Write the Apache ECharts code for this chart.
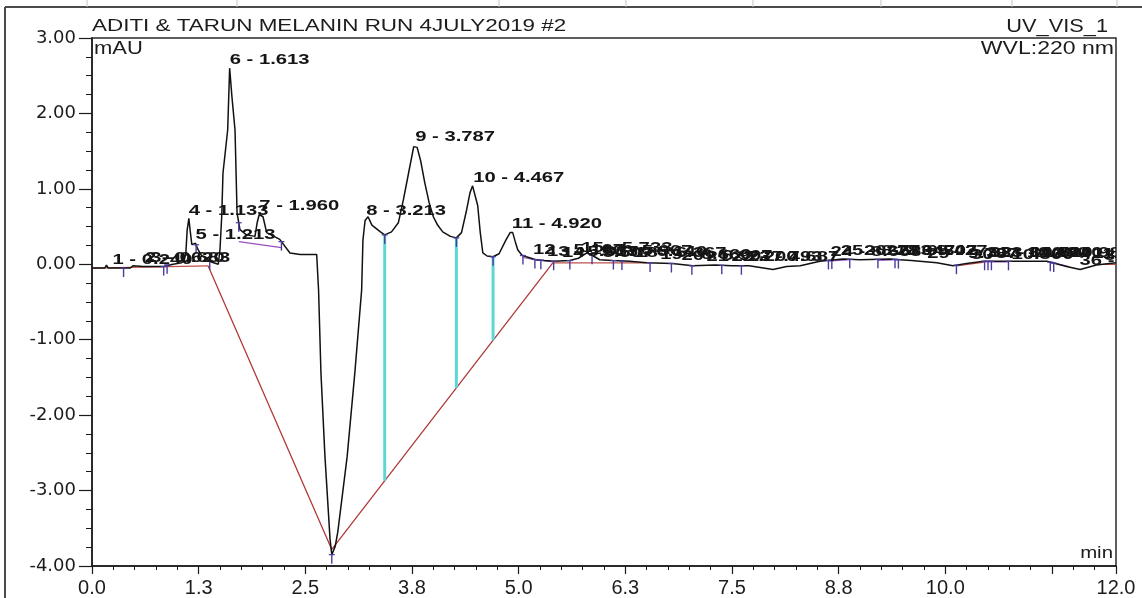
<!DOCTYPE html>
<html>
<head>
<meta charset="utf-8">
<title>ADITI &amp; TARUN MELANIN RUN 4JULY2019 #2</title>
<script src="https://cdn.jsdelivr.net/npm/echarts@6/dist/echarts.min.js"></script>
<style>
  html, body { margin: 0; padding: 0; background: #ffffff; }
  #chart { width: 1142px; height: 598px; }
</style>
</head>
<body>
<div id="chart"></div>
<script>
// UV_VIS_1 chromatogram, signal in mAU against retention time in min
const traceTime = [
  0.00, 0.15, 0.17, 0.19, 0.45, 0.48, 0.60, 0.84, 0.86, 0.95, 1.05, 1.08, 1.10, 1.115, 1.135, 1.15, 1.17, 1.19,
  1.213, 1.24, 1.28, 1.32, 1.40, 1.48, 1.50, 1.52, 1.535, 1.59, 1.613, 1.625, 1.64, 1.676, 1.70, 1.734, 1.81,
  1.91, 1.935, 1.96, 2.004, 2.047, 2.20, 2.32, 2.44, 2.633, 2.655, 2.683, 2.73, 2.79, 2.81, 2.85, 2.88, 2.99,
  3.08, 3.16, 3.175, 3.20, 3.235, 3.28, 3.38, 3.43, 3.51, 3.59, 3.65, 3.71, 3.77, 3.79, 3.81, 3.85, 3.90, 3.95,
  4.00, 4.05, 4.11, 4.20, 4.27, 4.33, 4.39, 4.43, 4.46, 4.48, 4.52, 4.55, 4.58, 4.63, 4.70, 4.77, 4.85, 4.90,
  4.93, 4.96, 4.99, 5.04, 5.09, 5.20, 5.30, 5.41, 5.60, 5.70, 5.80, 5.86, 5.95, 6.10, 6.30, 6.50, 6.80, 7.04,
  7.30, 7.50, 7.70, 7.98, 8.14, 8.30, 8.53, 8.80, 9.00, 9.35, 9.60, 9.90, 10.09, 10.25, 10.45, 10.80, 11.19,
  11.42, 11.58, 11.77, 12.00
];
const traceSignal = [
  -0.05, -0.05, -0.01, -0.05, -0.05, -0.02, -0.03, -0.03, -0.01, 0.00, 0.02, 0.05, 0.15, 0.45, 0.61, 0.45, 0.26, 0.24,
  0.28, 0.20, 0.12, 0.09, 0.03, 0.00, 0.20, 0.63, 1.21, 1.78, 2.60, 2.61, 2.22, 1.78, 0.68, 0.46, 0.39,
  0.37, 0.55, 0.66, 0.63, 0.42, 0.33, 0.15, 0.13, 0.13, -0.34, -1.44, -2.55, -3.65, -3.85, -3.74, -3.55, -2.55,
  -1.44, -0.34, 0.32, 0.58, 0.63, 0.52, 0.43, 0.39, 0.43, 0.55, 0.86, 1.21, 1.56, 1.58, 1.55, 1.38, 1.08, 0.82,
  0.63, 0.52, 0.43, 0.37, 0.35, 0.42, 0.72, 0.95, 1.04, 1.03, 0.78, 0.42, 0.15, 0.11, 0.10, 0.14, 0.32, 0.42,
  0.42, 0.30, 0.19, 0.12, 0.10, 0.06, 0.05, 0.04, 0.05, 0.08, 0.15, 0.12, 0.06, 0.05, 0.04, 0.02, 0.01, -0.02,
  -0.01, -0.02, -0.02, -0.07, -0.03, -0.02, 0.04, 0.07, 0.06, 0.07, 0.05, 0.02, -0.02, 0.01, 0.04, 0.04, 0.04,
  -0.03, -0.07, -0.01, 0.02
];

// Integrated peaks: number and retention time (min)
const peakNumber = [
  1, 2, 3, 4, 5, 6, 7, 8, 9, 10, 11, 12, 13, 14, 15, 16, 17, 18, 19,
  20, 21, 22, 23, 24, 25, 26, 27, 28, 29, 30, 31, 32, 33, 34, 35, 36, 37
];
const peakTime = [
  0.240, 0.620, 0.683, 1.133, 1.213, 1.613, 1.960, 3.213, 3.787, 4.467, 4.920, 5.167, 5.333, 5.507, 5.733, 5.967, 6.140, 6.367, 6.660,
  6.907, 7.200, 7.493, 7.687, 8.653, 8.773, 9.047, 9.307, 9.427, 9.787, 10.300, 10.480, 10.520, 10.640, 10.987, 11.247, 11.573, 11.860
];

// Peak start / end delimiters (min)
const delimiterTime = [
  0.37, 0.84, 0.88, 1.22, 1.38, 1.72, 2.22, 2.81, 3.43, 4.27, 4.70, 5.05, 5.19, 5.26, 5.41, 5.60, 5.86, 6.11,
  6.21, 6.54, 6.79, 7.03, 7.38, 7.61, 8.63, 8.67, 8.88, 9.21, 9.41, 9.45, 10.13, 10.46, 10.50, 10.54, 10.74,
  11.23, 11.27
];

// Main integration baseline under the negative dip
const mainBaseTime = [1.36, 2.81, 5.40];
const mainBaseSignal = [-0.02, -3.78, 0.02];

// Other baseline pieces: red and purple segments, [t1, v1, t2, v2]
const redBaseSegments = [
  [0.00, -0.05, 1.36, -0.02],
  [5.40, 0.02, 6.50, 0.02],
  [10.13, -0.02, 10.46, 0.03],
  [11.85, 0.00, 12.00, 0.00]
];
const purpleBaseSegments = [
  [1.72, 0.30, 2.22, 0.22],
  [5.05, 0.09, 5.19, 0.06],
  [5.19, 0.06, 5.41, 0.03],
  [8.63, 0.04, 8.88, 0.06],
  [9.21, 0.05, 9.45, 0.06],
  [10.46, 0.03, 10.74, 0.03],
  [11.23, 0.03, 11.45, -0.03]
];

// Perpendicular drops from the trace to the main baseline (min)
const dropTime = [3.43, 4.27, 4.70];

// Axis ticks
const xTickLabels = ['0.0', '1.3', '2.5', '3.8', '5.0', '6.3', '7.5', '8.8', '10.0', '', '12.0'];
const yTickLabels = ['-4.00', '-3.00', '-2.00', '-1.00', '0.00', '1.00', '2.00', '3.00'];

function interp(xs, ys, t) {
  if (t <= xs[0]) return ys[0];
  for (let i = 1; i < xs.length; i++) {
    if (t <= xs[i]) {
      const f = (t - xs[i - 1]) / (xs[i] - xs[i - 1]);
      return ys[i - 1] + f * (ys[i] - ys[i - 1]);
    }
  }
  return ys[ys.length - 1];
}

const traceData = traceTime.map((t, i) => [t, traceSignal[i]]);
const mainBaseData = mainBaseTime.map((t, i) => [t, mainBaseSignal[i]]);

function segmentData(segs) {
  const out = [];
  segs.forEach((s, i) => {
    if (i > 0) out.push([s[0], '-']);
    out.push([s[0], s[1]]);
    out.push([s[2], s[3]]);
  });
  return out;
}

const labelData = peakTime.map((t, i) => [t, interp(traceTime, traceSignal, t), peakNumber[i]]);
const delimiterData = delimiterTime.map(t => [t, interp(traceTime, traceSignal, t)]);
const dropData = dropTime.map(t => [t, interp(traceTime, traceSignal, t), interp(mainBaseTime, mainBaseSignal, t)]);

const chart = echarts.init(document.getElementById('chart'), null, { renderer: 'canvas' });

const option = {
  animation: false,
  backgroundColor: '#ffffff',
  textStyle: { fontFamily: '"Liberation Sans", Arial, sans-serif' },
  grid: {
    left: 92, right: 26, top: 38, bottom: 32,
    containLabel: false, outerBoundsMode: 'none',
    show: true, borderColor: '#2a2a2a', borderWidth: 1.5, backgroundColor: 'transparent'
  },
  xAxis: {
    type: 'value', min: 0, max: 12, interval: 1.25,
    axisLine: { show: true, onZero: false, lineStyle: { color: '#1a1a1a', width: 1.5 } },
    axisTick: { show: true, length: 8, lineStyle: { color: '#1a1a1a', width: 1.2 } },
    minorTick: { show: true, splitNumber: 5, length: 4, lineStyle: { color: '#1a1a1a', width: 1 } },
    splitLine: { show: false },
    axisLabel: {
      show: true, margin: 12, color: '#1c1c1c', fontSize: 20,
      fontFamily: '"Liberation Sans", Arial, sans-serif',
      showMinLabel: true, showMaxLabel: true, hideOverlap: false,
      formatter: (v, idx) => xTickLabels[idx] !== undefined ? xTickLabels[idx] : ''
    }
  },
  yAxis: {
    type: 'value', min: -4, max: 3, interval: 1,
    axisLine: { show: true, onZero: false, lineStyle: { color: '#1a1a1a', width: 1.5 } },
    axisTick: { show: true, length: 13, lineStyle: { color: '#1a1a1a', width: 1.2 } },
    minorTick: { show: true, splitNumber: 4, length: 6, lineStyle: { color: '#1a1a1a', width: 1 } },
    splitLine: { show: false },
    axisLabel: {
      show: true, margin: 16, color: '#1c1c1c', fontSize: 18,
      fontFamily: '"DejaVu Sans", sans-serif',
      showMinLabel: true, showMaxLabel: true,
      formatter: (v, idx) => yTickLabels[idx] !== undefined ? yTickLabels[idx] : ''
    }
  },
  graphic: [
    // sheet frame around the plot
    { type: 'line', silent: true, shape: { x1: 5, y1: 7, x2: 1142, y2: 7 }, style: { stroke: '#4a4a4a', lineWidth: 2 } },
    { type: 'line', silent: true, shape: { x1: 5, y1: 7, x2: 5, y2: 598 }, style: { stroke: '#4a4a4a', lineWidth: 2 } },
    { type: 'line', silent: true, shape: { x1: 87, y1: 0, x2: 87, y2: 7 }, style: { stroke: '#c4c4c4', lineWidth: 1 } },
    { type: 'line', silent: true, shape: { x1: 237, y1: 0, x2: 237, y2: 7 }, style: { stroke: '#c4c4c4', lineWidth: 1 } },
    { type: 'line', silent: true, shape: { x1: 499, y1: 0, x2: 499, y2: 7 }, style: { stroke: '#c4c4c4', lineWidth: 1 } },
    { type: 'line', silent: true, shape: { x1: 626, y1: 0, x2: 626, y2: 7 }, style: { stroke: '#c4c4c4', lineWidth: 1 } },
    { type: 'line', silent: true, shape: { x1: 753, y1: 0, x2: 753, y2: 7 }, style: { stroke: '#c4c4c4', lineWidth: 1 } },
    { type: 'line', silent: true, shape: { x1: 881, y1: 0, x2: 881, y2: 7 }, style: { stroke: '#c4c4c4', lineWidth: 1 } },
    { type: 'line', silent: true, shape: { x1: 1012, y1: 0, x2: 1012, y2: 7 }, style: { stroke: '#c4c4c4', lineWidth: 1 } },
    { type: 'line', silent: true, shape: { x1: 1117, y1: 0, x2: 1117, y2: 7 }, style: { stroke: '#c4c4c4', lineWidth: 1 } },
    // headings
    { type: 'text', silent: true, x: 92, y: 18, scaleX: 1.32,
      style: { text: 'ADITI & TARUN MELANIN RUN 4JULY2019 #2', font: '17px "Liberation Sans", Arial, sans-serif', fill: '#1c1c1c', align: 'left', verticalAlign: 'top' } },
    { type: 'text', silent: true, x: 1108, y: 18, scaleX: 1.21,
      style: { text: 'UV_VIS_1', font: '18px "Liberation Sans", Arial, sans-serif', fill: '#1c1c1c', align: 'right', verticalAlign: 'top' } },
    { type: 'text', silent: true, x: 94, y: 40, scaleX: 1.22,
      style: { text: 'mAU', font: '18px "Liberation Sans", Arial, sans-serif', fill: '#1c1c1c', align: 'left', verticalAlign: 'top' } },
    { type: 'text', silent: true, x: 1114, y: 40, scaleX: 1.28,
      style: { text: 'WVL:220 nm', font: '18px "Liberation Sans", Arial, sans-serif', fill: '#1c1c1c', align: 'right', verticalAlign: 'top' } },
    { type: 'text', silent: true, x: 1113, y: 545, scaleX: 1.2,
      style: { text: 'min', font: '17px "Liberation Sans", Arial, sans-serif', fill: '#1c1c1c', align: 'right', verticalAlign: 'top' } }
  ],
  series: [
    {
      name: 'baseline', type: 'line', data: mainBaseData, showSymbol: false, z: 2,
      lineStyle: { color: '#b03a3a', width: 1.3 }, silent: true
    },
    {
      name: 'baseline segments', type: 'line', data: segmentData(redBaseSegments), showSymbol: false, z: 2,
      connectNulls: false, lineStyle: { color: '#c0504d', width: 1.3 }, silent: true
    },
    {
      name: 'peak baselines', type: 'line', data: segmentData(purpleBaseSegments), showSymbol: false, z: 2,
      connectNulls: false, lineStyle: { color: '#9a4fc2', width: 1.2 }, silent: true
    },
    {
      name: 'drops', type: 'custom', z: 3, clip: true, silent: true,
      data: dropData,
      encode: { x: 0, y: [1, 2] },
      renderItem: function (params, api) {
        const top = api.coord([api.value(0), api.value(1)]);
        const bot = api.coord([api.value(0), api.value(2)]);
        return {
          type: 'line',
          shape: { x1: top[0], y1: top[1], x2: bot[0], y2: bot[1] },
          style: { stroke: '#5fd6d6', lineWidth: 3 }
        };
      }
    },
    {
      name: 'UV_VIS_1', type: 'line', data: traceData, showSymbol: false, z: 5,
      sampling: null, lineStyle: { color: '#111111', width: 1.5 }, silent: true
    },
    {
      name: 'delimiters', type: 'custom', z: 6, clip: true, silent: true,
      data: delimiterData,
      encode: { x: 0, y: 1 },
      renderItem: function (params, api) {
        const p = api.coord([api.value(0), api.value(1)]);
        return {
          type: 'group',
          children: [
            { type: 'line', shape: { x1: p[0], y1: p[1], x2: p[0], y2: p[1] + 9 }, style: { stroke: '#4a3c9c', lineWidth: 1.4 } },
            { type: 'line', shape: { x1: p[0] - 3, y1: p[1], x2: p[0] + 3, y2: p[1] }, style: { stroke: '#4a3c9c', lineWidth: 1.2 } }
          ]
        };
      }
    },
    {
      name: 'peak labels', type: 'custom', z: 8, clip: true, silent: true,
      data: labelData,
      encode: { x: 0, y: 1 },
      renderItem: function (params, api) {
        const t = api.value(0);
        const p = api.coord([t, api.value(1)]);
        return {
          type: 'text', x: p[0], y: p[1] - 1, scaleX: 1.35,
          style: {
            text: api.value(2) + ' - ' + t.toFixed(3),
            font: 'bold 15px "Liberation Sans", Arial, sans-serif',
            fill: '#151515', align: 'left', verticalAlign: 'bottom'
          }
        };
      }
    }
  ]
};

chart.setOption(option);
</script>
</body>
</html>
